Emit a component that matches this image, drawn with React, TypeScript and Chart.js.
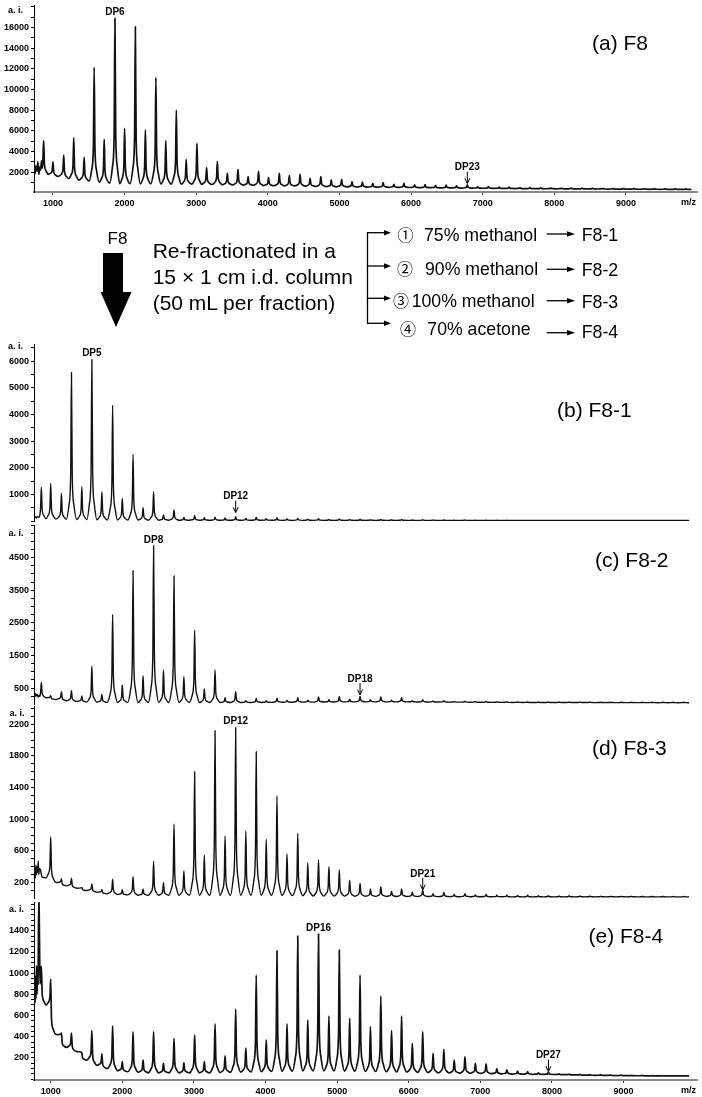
import React, { useEffect, useRef } from "react";
import { Chart, registerables } from "chart.js";

Chart.register(...registerables);

const FONT = "'Liberation Sans', Arial, Helvetica, sans-serif";
Chart.defaults.font.family = FONT;

// ---------- DATA ----------
// m/z of the oligomer peaks (main DP series interleaved with the secondary series)
const PEAK_MZ = [
  870, 1000, 1150, 1290, 1435, 1575, 1715, 1865, 2000, 2150,
  2290, 2437, 2575, 2722, 2860, 3010, 3145, 3295, 3435, 3583,
  3725, 3870, 4010, 4160, 4300, 4450, 4590, 4740, 4885, 5030,
  5175, 5320, 5465, 5610, 5760, 5900, 6050, 6195, 6340, 6490,
  6635, 6785, 6930, 7080, 7230, 7370, 7520, 7660, 7810, 7950,
  8100, 8240, 8390, 8530, 8680, 8820, 8970, 9110, 9260, 9400,
  9550, 9690, 9840,
];

const X_TICKS = [1000, 2000, 3000, 4000, 5000, 6000, 7000, 8000, 9000];

// (a) F8
const F8_LEAD_MZ = [740, 752, 765, 778, 790, 803, 815, 828, 840, 852];
const F8_LEAD = [2800, 1900, 2600, 2100, 3000, 1800, 2500, 2200, 3100, 2400];
const F8_PEAKS = [
  5050, 3000, 3670, 5340, 3450, 12140, 5180, 16870, 6250, 16070,
  6090, 11140, 5050, 8020, 3250, 4800, 2450, 3060, 1900, 2290,
  1575, 2100, 1480, 1900, 1670, 1800, 1420, 1575, 1260, 1320,
  1090, 1060, 940, 1000, 840, 940, 780, 800, 720, 760,
  700, 780, 600, 620, 560, 560, 520, 530, 500, 500,
  480, 480, 470, 470, 460, 450, 450, 440, 430, 430,
  420, 420, 410,
];
const F8_VALLEYS = [
  1800, 1600, 1400, 1250, 1150, 1050, 950, 900, 900, 880,
  880, 870, 860, 850, 850, 840, 820, 800, 780, 760,
  740, 720, 700, 690, 680, 660, 640, 620, 600, 590,
  580, 570, 560, 550, 540, 530, 520, 510, 500, 490,
  480, 470, 460, 450, 440, 430, 420, 415, 410, 405,
  400, 395, 390, 385, 380, 375, 370, 365, 360, 355,
  350, 345, 340,
];
const F8_Y_TICKS = [2000, 4000, 6000, 8000, 10000, 12000, 14000, 16000];

// (b) F8-1
const F81_LEAD_MZ = [770, 785, 800, 815, 830, 845];
const F81_LEAD = [120, 160, 110, 170, 140, 180];
const F81_PEAKS = [
  1262, 1412, 1037, 5575, 1287, 6062, 1100, 4350, 850, 2500,
  500, 1100, 225, 412, 130, 200, 120, 140, 110, 160,
  100, 130, 90, 110, 80, 95, 70, 85, 60, 75,
  55, 65, 50, 60, 45, 55, 40, 50, 35, 40,
  30, 35, 30, 30, 28, 28, 25, 25, 25, 25,
  22, 22, 22, 20, 20, 20, 20, 20, 18, 18,
  18, 18, 18,
];
const F81_VALLEYS = [
  90, 70, 60, 55, 50, 45, 40, 40, 35, 35,
  30, 30, 30, 28, 28, 28, 27, 26, 26, 26,
  26, 26, 26, 25, 25, 25, 25, 25, 24, 24,
  24, 24, 23, 23, 23, 23, 22, 22, 22, 22,
  22, 21, 21, 21, 20, 20, 20, 20, 20, 20,
  20, 20, 20, 20, 20, 20, 20, 20, 20, 20,
  20, 20, 20,
];
const F81_Y_TICKS = [1000, 2000, 3000, 4000, 5000, 6000];

// (c) F8-2
const F82_LEAD_MZ = [770, 780, 790, 800, 812, 825, 838, 850];
const F82_LEAD = [300, 230, 330, 260, 300, 220, 280, 240];
const F82_PEAKS = [
  675, 265, 388, 419, 255, 1175, 306, 2760, 592, 4100,
  877, 4865, 1052, 3935, 847, 2280, 470, 1052, 205, 388,
  112, 184, 110, 190, 120, 200, 130, 230, 140, 240,
  150, 250, 140, 230, 130, 200, 110, 140, 100, 110,
  90, 95, 85, 85, 80, 80, 75, 75, 75, 72,
  72, 70, 70, 70, 68, 68, 68, 66, 66, 65,
  65, 65, 65,
];
const F82_VALLEYS = [
  200, 150, 110, 90, 75, 65, 60, 55, 55, 55,
  55, 55, 55, 55, 55, 55, 55, 55, 55, 55,
  55, 58, 60, 62, 64, 66, 68, 70, 72, 74,
  75, 76, 76, 76, 75, 74, 73, 72, 70, 68,
  66, 64, 62, 60, 60, 58, 58, 56, 56, 55,
  55, 54, 54, 53, 53, 52, 52, 51, 51, 50,
  50, 50, 50,
];
const F82_Y_TICKS = [500, 1500, 2500, 3500, 4500];

// (d) F8-3
const F83_LEAD_MZ = [770, 778, 786, 794, 802, 810, 818, 826, 834, 842];
const F83_LEAD = [300, 380, 260, 420, 300, 400, 330, 473, 300, 380];
const F83_PEAKS = [
  300, 780, 250, 255, 140, 183, 110, 242, 110, 275,
  120, 469, 200, 940, 347, 1600, 549, 2118, 789, 2160,
  852, 1853, 747, 1294, 562, 823, 447, 486, 400, 360,
  230, 190, 120, 150, 90, 120, 80, 107, 60, 75,
  50, 60, 45, 50, 40, 42, 38, 40, 35, 36,
  33, 34, 32, 32, 30, 30, 30, 29, 28, 28,
  28, 27, 27,
];
const F83_VALLEYS = [
  260, 200, 160, 130, 100, 80, 60, 50, 45, 40,
  40, 40, 40, 40, 40, 40, 40, 40, 40, 40,
  40, 40, 40, 38, 36, 34, 32, 30, 30, 30,
  28, 28, 26, 26, 25, 25, 24, 24, 23, 23,
  22, 22, 22, 21, 21, 20, 20, 20, 20, 20,
  20, 20, 20, 20, 20, 20, 20, 20, 20, 20,
  20, 20, 20,
];
const F83_Y_TICKS = [200, 600, 1000, 1400, 1800, 2200];

// (e) F8-4
const F84_LEAD_MZ = [770, 776, 782, 788, 795, 802, 809, 816, 823, 830, 837, 844, 851];
const F84_LEAD = [700, 980, 720, 960, 760, 1070, 800, 1000, 900, 1450, 1675, 1300, 900];
const F84_PEAKS = [
  1068, 945, 434, 434, 245, 458, 238, 502, 165, 448,
  181, 448, 150, 386, 155, 417, 165, 521, 219, 660,
  292, 983, 370, 1212, 521, 1351, 558, 1370, 596, 1219,
  574, 983, 495, 785, 458, 596, 338, 448, 244, 282,
  181, 212, 150, 144, 100, 87, 75, 71, 60, 65,
  50, 48, 45, 44, 42, 40, 38, 36, 35, 34,
  33, 32, 30,
];
const F84_VALLEYS = [
  700, 420, 300, 260, 180, 130, 100, 80, 70, 65,
  60, 60, 60, 60, 60, 60, 60, 62, 64, 66,
  68, 70, 72, 74, 76, 78, 78, 78, 78, 76,
  75, 74, 72, 70, 68, 66, 64, 62, 60, 58,
  56, 55, 54, 52, 50, 48, 47, 46, 45, 44,
  42, 40, 38, 36, 35, 34, 33, 32, 31, 30,
  30, 30, 30,
];
const F84_Y_TICKS = [200, 400, 600, 800, 1000, 1200, 1400];

// peak annotations: label, m/z, value at label base / arrow tip
const F8_NOTES = [{ text: "DP6", mz: 1865, value: 16870, arrow: false }, { text: "DP23", mz: 6785, value: 900, arrow: true }];
const F81_NOTES = [{ text: "DP5", mz: 1575, value: 6062, arrow: false }, { text: "DP12", mz: 3583, value: 311, arrow: true }];
const F82_NOTES = [{ text: "DP8", mz: 2437, value: 4865, arrow: false }, { text: "DP18", mz: 5320, value: 285, arrow: true }];
const F83_NOTES = [{ text: "DP12", mz: 3583, value: 2160, arrow: false }, { text: "DP21", mz: 6195, value: 107, arrow: true }];
const F84_NOTES = [{ text: "DP16", mz: 4740, value: 1370, arrow: false }, { text: "DP27", mz: 7950, value: 71, arrow: true }];

// diagram text
const ELUENTS = ["75% methanol", "90% methanol", "100% methanol", "70% acetone"];
const CIRCLED = ["\u2460", "\u2461", "\u2462", "\u2463"];
const FRACTIONS = ["F8-1", "F8-2", "F8-3", "F8-4"];
const PROCEDURE = ["Re-fractionated in a", "15 \u00d7 1 cm i.d. column", "(50 mL per fraction)"];

// ---------- LAYOUT / STYLE ----------
type Panel = {
  key: string; title: string;
  leadMz: number[]; lead: number[]; peaks: number[]; valleys: number[];
  yTicks: number[]; notes: { text: string; mz: number; value: number; arrow: boolean }[];
  areaTop: number; areaBottom: number; xAxisH: number;
  xMin: number; xMax: number; yMin: number; yMax: number; minorStep: number;
  titleX: number; titleY: number; aiX: number; aiY: number; lineW: number;
};

const PANELS: Panel[] = [
  { key: "a", title: "(a) F8", leadMz: F8_LEAD_MZ, lead: F8_LEAD, peaks: F8_PEAKS, valleys: F8_VALLEYS, yTicks: F8_Y_TICKS, notes: F8_NOTES,
    areaTop: 5, areaBottom: 192, xAxisH: 20, xMin: 735, xMax: 9992, yMin: 97, yMax: 18160, minorStep: 1000,
    titleX: 592, titleY: 50, aiX: 15.5, aiY: 11, lineW: 1.7 },
  { key: "b", title: "(b) F8-1", leadMz: F81_LEAD_MZ, lead: F81_LEAD, peaks: F81_PEAKS, valleys: F81_VALLEYS, yTicks: F81_Y_TICKS, notes: F81_NOTES,
    areaTop: 344, areaBottom: 521, xAxisH: 0, xMin: 767, xMax: 10025, yMin: 0, yMax: 6640, minorStep: 500,
    titleX: 557, titleY: 417, aiX: 15.5, aiY: 347, lineW: 1.4 },
  { key: "c", title: "(c) F8-2", leadMz: F82_LEAD_MZ, lead: F82_LEAD, peaks: F82_PEAKS, valleys: F82_VALLEYS, yTicks: F82_Y_TICKS, notes: F82_NOTES,
    areaTop: 525, areaBottom: 704, xAxisH: 0, xMin: 767, xMax: 10025, yMin: 10, yMax: 5500, minorStep: 250,
    titleX: 595, titleY: 566.5, aiX: 16, aiY: 534, lineW: 1.4 },
  { key: "d", title: "(d) F8-3", leadMz: F83_LEAD_MZ, lead: F83_LEAD, peaks: F83_PEAKS, valleys: F83_VALLEYS, yTicks: F83_Y_TICKS, notes: F83_NOTES,
    areaTop: 706, areaBottom: 898, xAxisH: 0, xMin: 767, xMax: 10025, yMin: 6, yMax: 2430, minorStep: 100,
    titleX: 592, titleY: 755, aiX: 17, aiY: 714, lineW: 1.4 },
  { key: "e", title: "(e) F8-4", leadMz: F84_LEAD_MZ, lead: F84_LEAD, peaks: F84_PEAKS, valleys: F84_VALLEYS, yTicks: F84_Y_TICKS, notes: F84_NOTES,
    areaTop: 902, areaBottom: 1080, xAxisH: 17, xMin: 767, xMax: 10025, yMin: -8, yMax: 1672, minorStep: 50,
    titleX: 588.5, titleY: 943, aiX: 16.5, aiY: 909.5, lineW: 1.7 },
];

const PAD_TOP = 20;
const PAD_BOTTOM = 10;
const Y_AXIS_W = 34;
const RIGHT_PAD = 5;

// peak shape (rendering only): offsets in m/z and fraction of peak height above the valley
const SHAPE_NEAR = 11, SHAPE_FAR = 34, FRAC_NEAR = 0.3, FRAC_FAR = 0.1;

function buildSpectrum(p: Panel) {
  const pts: { x: number; y: number }[] = [];
  const push = (x: number, y: number) => {
    if (!pts.length || x > pts[pts.length - 1].x) pts.push({ x, y });
  };
  p.leadMz.forEach((m, i) => push(m, p.lead[i]));
  PEAK_MZ.forEach((m, i) => {
    const h = p.peaks[i];
    const l = i === 0 ? p.lead[p.lead.length - 1] : p.valleys[i - 1];
    const r = p.valleys[i];
    push(m - SHAPE_FAR, l + (h - l) * FRAC_FAR);
    push(m - SHAPE_NEAR, l + (h - l) * FRAC_NEAR);
    push(m, h);
    push(m + SHAPE_NEAR, r + (h - r) * FRAC_NEAR);
    push(m + SHAPE_FAR, r + (h - r) * FRAC_FAR);
    const next = i < PEAK_MZ.length - 1 ? PEAK_MZ[i + 1] : m + 150;
    push((m + next) / 2, r);
  });
  return pts;
}

function SpectrumPanel({ p }: { p: Panel }) {
  const ref = useRef<HTMLCanvasElement>(null);
  const canvasTop = p.areaTop - PAD_TOP;
  const canvasH = PAD_TOP + (p.areaBottom - p.areaTop) + (p.xAxisH > 0 ? p.xAxisH : PAD_BOTTOM);

  useEffect(() => {
    const minor: number[] = [];
    for (let v = Math.ceil(p.yMin / p.minorStep) * p.minorStep; v <= p.yMax; v += p.minorStep) minor.push(v);

    const overlay = {
      id: "overlay_" + p.key,
      afterDraw(chart: any) {
        const ctx = chart.ctx as CanvasRenderingContext2D;
        const xs = chart.scales.x, ys = chart.scales.y;
        ctx.save();
        ctx.fillStyle = "#000";
        ctx.strokeStyle = "#000";
        ctx.font = `bold 9px ${FONT}`;
        ctx.textAlign = "center";
        ctx.textBaseline = "middle";
        ctx.fillText("a. i.", p.aiX, p.aiY - canvasTop);

        ctx.font = `21px ${FONT}`;
        ctx.textAlign = "left";
        ctx.textBaseline = "alphabetic";
        ctx.fillText(p.title, p.titleX, p.titleY - canvasTop);

        if (p.xAxisH > 0) {
          ctx.font = `bold 9px ${FONT}`;
          ctx.textAlign = "right";
          ctx.textBaseline = "middle";
          ctx.fillText("m/z", chart.chartArea.right - 1, chart.chartArea.bottom + 11);
        }

        ctx.font = `bold 10px ${FONT}`;
        ctx.textAlign = "center";
        ctx.textBaseline = "alphabetic";
        ctx.lineWidth = 1;
        p.notes.forEach((n) => {
          const x = xs.getPixelForValue(n.mz);
          const y = ys.getPixelForValue(n.value);
          if (n.arrow) {
            ctx.beginPath();
            ctx.moveTo(x, y - 12);
            ctx.lineTo(x, y - 1);
            ctx.stroke();
            ctx.beginPath();
            ctx.moveTo(x - 2.5, y - 5.5);
            ctx.lineTo(x, y);
            ctx.lineTo(x + 2.5, y - 5.5);
            ctx.stroke();
            ctx.fillText(n.text, x, y - 13.5);
          } else {
            ctx.fillText(n.text, x, y - 3);
          }
        });
        ctx.restore();
      },
    };

    const chart = new Chart(ref.current as HTMLCanvasElement, {
      type: "line",
      data: {
        datasets: [
          {
            data: buildSpectrum(p),
            borderColor: "#111",
            borderWidth: p.lineW,
            pointRadius: 0,
            fill: false,
            cubicInterpolationMode: "monotone",
          },
        ],
      },
      options: {
        animation: false,
        responsive: false,
        devicePixelRatio: 1,
        events: [],
        layout: { padding: { left: 0, right: RIGHT_PAD, top: PAD_TOP, bottom: p.xAxisH > 0 ? 0 : PAD_BOTTOM } },
        plugins: { legend: { display: false }, tooltip: { enabled: false }, title: { display: false } },
        scales: {
          x: {
            type: "linear",
            display: p.xAxisH > 0,
            min: p.xMin,
            max: p.xMax,
            afterBuildTicks: (s: any) => { s.ticks = X_TICKS.map((v) => ({ value: v })); },
            afterFit: (s: any) => { s.height = p.xAxisH; },
            ticks: {
              autoSkip: false, maxRotation: 0, padding: 3, color: "#000", font: { size: 9, weight: "bold" },
              callback: (v: any) => String(v),
            },
            grid: { drawOnChartArea: false, drawTicks: true, tickLength: 3, color: "#444" },
            border: { display: true, color: "#888", width: 2 },
          },
          y: {
            type: "linear",
            min: p.yMin,
            max: p.yMax,
            afterBuildTicks: (s: any) => { s.ticks = minor.map((v) => ({ value: v })); },
            afterFit: (s: any) => { s.width = Y_AXIS_W; },
            ticks: {
              autoSkip: false,
              padding: 2,
              color: "#000",
              font: { size: 9, weight: "bold" },
              callback: (v: any) => (p.yTicks.includes(Number(v)) ? String(v) : ""),
            },
            grid: { drawOnChartArea: false, drawTicks: true, tickLength: 3, color: "#000" },
            border: { display: true, color: "#000", width: 1 },
          },
        },
      },
      plugins: [overlay],
    } as any);
    return () => chart.destroy();
  }, []);

  return (
    <canvas
      ref={ref}
      width={702}
      height={canvasH}
      style={{ position: "absolute", left: 0, top: canvasTop, width: 702, height: canvasH }}
    />
  );
}

function Arrow({ x1, x2, y, head }: { x1: number; x2: number; y: number; head: number }) {
  return (
    <g>
      <line x1={x1} y1={y} x2={x2 - head + 1} y2={y} stroke="#000" strokeWidth={1.3} />
      <polygon points={`${x2 - head},${y - 2.8} ${x2},${y} ${x2 - head},${y + 2.8}`} fill="#000" />
    </g>
  );
}

function Diagram() {
  const rowArrowY = [232.7, 266, 298.3, 323.3];
  const rowBase = [240.7, 275, 306.7, 335];
  const circX = [397.5, 397, 393, 400];
  const eluentX = [424, 425, 411.7, 427.3];
  const longArrowY = [234, 269.3, 300.7, 332.7];
  const fracBase = [240.7, 275.7, 307.7, 338];
  return (
    <svg width={702} height={1097} style={{ position: "absolute", left: 0, top: 0, fontFamily: FONT }}>
      <text x={117.5} y={244} fontSize={17} textAnchor="middle" fill="#000">F8</text>
      <polygon points="103,253 123,253 123,292 131.5,292 116,327 100.5,292 103,292" fill="#000" />
      {PROCEDURE.map((t, i) => (
        <text key={t} x={152.7} y={258.3 + i * 25.6} fontSize={21} fill="#000">{t}</text>
      ))}
      <line x1={367.5} y1={232.7} x2={367.5} y2={323.3} stroke="#000" strokeWidth={1.3} />
      {ELUENTS.map((t, i) => (
        <g key={t}>
          <Arrow x1={366.9} x2={391} y={rowArrowY[i]} head={7} />
          <text x={circX[i]} y={rowBase[i]} fontSize={16} fontFamily="'Noto Sans CJK JP', 'Noto Sans CJK SC', 'DejaVu Sans'" fill="#000">{CIRCLED[i]}</text>
          <text x={eluentX[i]} y={rowBase[i]} fontSize={17.7} fill="#000">{t}</text>
          <Arrow x1={546.7} x2={575} y={longArrowY[i]} head={8} />
          <text x={581.7} y={fracBase[i]} fontSize={17.8} fill="#000">{FRACTIONS[i]}</text>
        </g>
      ))}
    </svg>
  );
}

export default function App() {
  return (
    <div style={{ position: "absolute", left: 0, top: 0, width: 702, height: 1097, overflow: "hidden", background: "#fff" }}>
      {PANELS.map((p) => (
        <SpectrumPanel key={p.key} p={p} />
      ))}
      <Diagram />
    </div>
  );
}
